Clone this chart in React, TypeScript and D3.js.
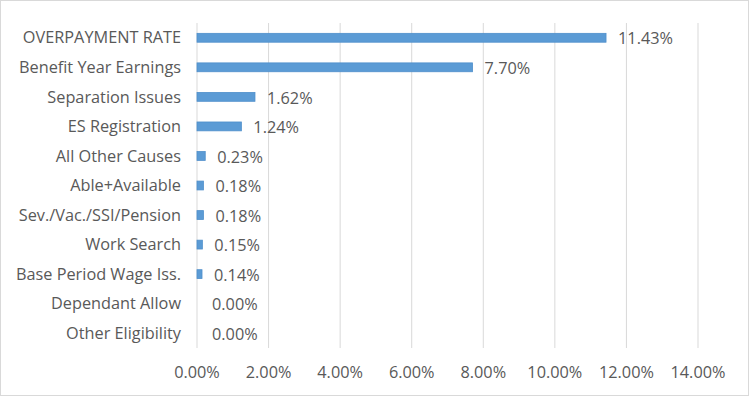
import React from "react";
import * as d3 from "d3";

const categories = [
  "OVERPAYMENT RATE",
  "Benefit Year Earnings",
  "Separation Issues",
  "ES Registration",
  "All Other Causes",
  "Able+Available",
  "Sev./Vac./SSI/Pension",
  "Work Search",
  "Base Period Wage Iss.",
  "Dependant Allow",
  "Other Eligibility",
];
const rates = [11.43, 7.7, 1.62, 1.24, 0.23, 0.18, 0.18, 0.15, 0.14, 0.0, 0.0];
const xTicks = [0, 2, 4, 6, 8, 10, 12, 14];

const width = 750;
const height = 397;
const plotLeft = 197;
const plotRight = 698;
const plotTop = 23;
const plotBottom = 348;
const font = "'Open Sans', sans-serif";
const textColor = "#595959";
const fs = 16.3;

export default function App() {
  const x = d3.scaleLinear().domain([0, 14]).range([plotLeft, plotRight]);
  const y = d3
    .scaleBand<string>()
    .domain(categories)
    .range([plotTop, plotBottom])
    .paddingInner(0.7)
    .paddingOuter(0.35);
  const fmt = (v: number) => v.toFixed(2) + "%";

  return (
    <svg
      width={width}
      height={height}
      style={{ position: "absolute", left: 0, top: 0, background: "#fff" }}
      fontFamily={font}
    >
      <rect x={0.5} y={0.5} width={width - 2} height={height - 2} fill="#fff" stroke="#d9d9d9" />
      {/* grid */}
      {xTicks.map((t) => (
        <line
          key={t}
          x1={x(t)}
          x2={x(t)}
          y1={plotTop}
          y2={plotBottom}
          stroke="#d9d9d9"
          strokeWidth={1}
        />
      ))}
      {/* bars + labels */}
      {categories.map((c, i) => (
        <g key={c}>
          {rates[i] > 0 && (
            <rect
              x={x(0)}
              y={y(c)!}
              width={Math.max(x(rates[i]) - x(0), 3)}
              height={y.bandwidth()}
              fill="#5b9bd5"
              stroke="#4f8fcb"
              strokeWidth={0.8}
            />
          )}
          <text
            x={Math.max(x(rates[i]), x(0) + 3) + 12}
            y={y(c)! + y.bandwidth() / 2 + 1}
            dy="0.35em"
            fontSize={fs}
            fill={textColor}
          >
            {fmt(rates[i])}
          </text>
          <text
            x={181}
            y={y(c)! + y.bandwidth() / 2}
            dy="0.35em"
            textAnchor="end"
            fontSize={fs}
            fill={textColor}
          >
            {c}
          </text>
        </g>
      ))}
      {/* x tick labels */}
      {xTicks.map((t) => (
        <text
          key={"l" + t}
          x={x(t)}
          y={372}
          dy="0.35em"
          textAnchor="middle"
          fontSize={fs}
          fill={textColor}
        >
          {fmt(t)}
        </text>
      ))}
    </svg>
  );
}
